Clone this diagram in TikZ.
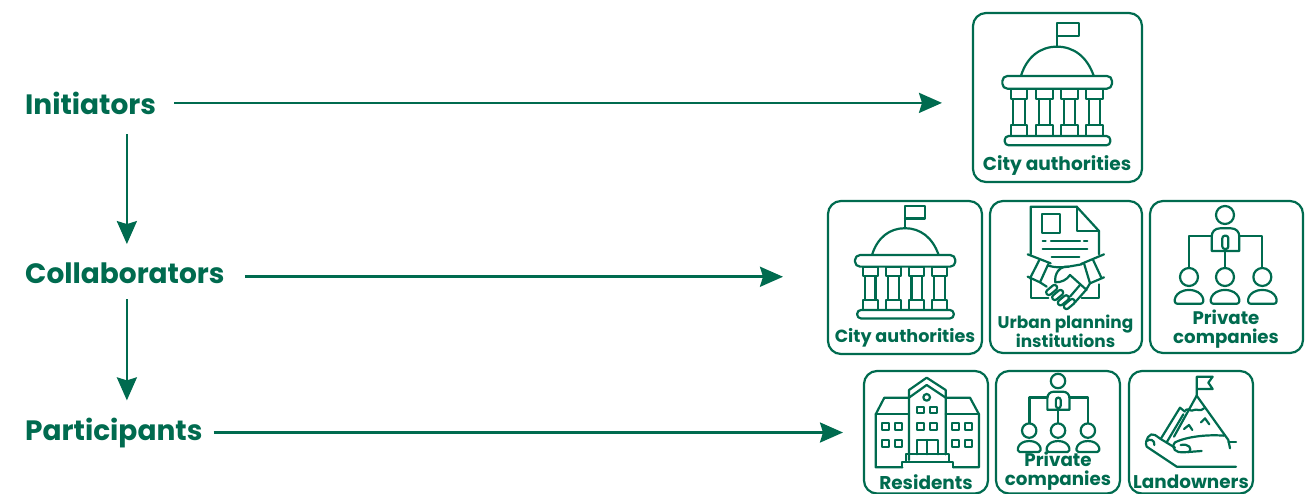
\documentclass[tikz,border=0pt]{standalone}
\usepackage{fontspec}
\setmainfont{Poppins}
\usetikzlibrary{arrows.meta}
\definecolor{ink}{HTML}{006B4F}
\tikzset{
  x=1pt,y=-1pt,
  tier/.style={anchor=base west,inner sep=0pt,text=ink,font=\bfseries\fontsize{28}{28}\selectfont},
  card/.style={draw=ink,line width=2.2pt,rounded corners=13pt,anchor=north west,inner sep=0pt,outer sep=0pt},
  cap/.style={text=ink,inner sep=0pt,align=center,font=\bfseries\fontsize{#1}{#1}\selectfont},
  flow/.style={draw=ink,line width=2.6pt,-{Stealth[length=23pt,width=20pt,inset=3pt]}},
  ic/.style={draw=ink,line width=2.2pt,line join=round,line cap=round},
  icthin/.style={draw=ink,line width=1.9pt,line join=round,line cap=round},
  cityhall/.pic={
    \path[ic,rounded corners=5pt] (-164,228) rectangle (165,266);
    \path[ic,rounded corners=4pt] (-157,408) rectangle (160,436);
    \path[ic] (0,140) -- (0,68) -- (66,68) -- (66,108) -- (0,108);
    \path[ic] (-108,227) .. controls (-90,170) and (-50,140) .. (0,140) .. controls (50,140) and (90,170) .. (110,227);
    \foreach \c in {-114,-38,38,113}{
      \path[ic] (\c-25,266) rectangle (\c+25,296);
      \path[ic] (\c-17,296) rectangle (\c+17,376);
      \path[ic] (\c-25,376) rectangle (\c+25,408);
    }
  },
  handshake/.pic={
    \path[ic] (152,178) -- (152,35) -- (290,35) -- (357,108) -- (357,178);
    \path[ic] (290,35) -- (290,108) -- (357,108);
    \path[ic] (185,58) rectangle (240,115);
    \path[ic] (188,138) -- (197,138) (213,138) -- (300,138) (312,138) -- (322,138);
    \path[ic] (188,162) -- (322,162) (215,187) -- (298,187);
    \path[ic] (152,250) -- (152,310) -- (205,310) (357,268) -- (357,310) -- (305,310);
    \path[ic] (143,178) -- (212,205) (372,178) -- (303,207);
    \path[ic] (178,195) -- (150,250) (143,245) -- (180,262) -- (205,207);
    \path[ic] (338,192) -- (365,250) (372,247) -- (330,265) -- (312,205);
    \path[ic] (205,212) .. controls (225,218) and (240,218) .. (265,215) -- (305,208);
    \path[ic] (265,215) .. controls (240,212) and (222,235) .. (226,262) .. controls (245,262) and (260,255) .. (270,240) -- (320,285);
    \path[ic] (180,262) -- (200,275) (330,265) -- (318,285);
    \foreach \a/\b in {215/285,233/300,250/316,268/327}{
      \path[ic,rotate around={40:(\a,\b)},rounded corners=2.5pt] (\a-19,\b-8) rectangle (\a+19,\b+8);
    }
    \path[ic] (300,270) -- (270,305) (318,285) -- (285,322);
  },
  orgchart/.pic={
    \path[ic] (240,60) circle (27);
    \path[ic] (200,168) -- (200,125) .. controls (200,110) and (210,100) .. (225,100) -- (258,100) .. controls (273,100) and (283,110) .. (283,125) -- (283,168) -- cycle;
    \path[ic,rounded corners=2.5pt] (232,122) rectangle (250,162);
    \path[ic] (200,122) -- (133,122) -- (133,218) (283,122) -- (352,122) -- (352,218) (240,168) -- (240,218);
    \foreach \c in {132,240,352}{
      \path[ic] (\c,246) circle (27);
      \path[ic] (\c-36,326) .. controls (\c-50,326) and (\c-45,285) .. (\c,285) .. controls (\c+45,285) and (\c+50,326) .. (\c+36,326) -- cycle;
    }
  },
  school/.pic={
    \path[ic] (162,285) -- (162,75) -- (215,38) -- (272,75) -- (272,268);
    \path[ic] (162,98) -- (215,60) -- (272,98);
    \path[ic] (215,97) circle (10);
    \path[ic] (162,98) -- (88,98) -- (62,148) -- (62,307) -- (142,307);
    \path[ic] (272,98) -- (345,98) -- (372,148) -- (372,307) -- (295,307);
    \path[ic] (62,148) -- (162,148) (272,148) -- (372,148);
    \path[ic] (142,307) -- (142,290) -- (295,290) -- (295,307);
    \path[ic] (152,290) -- (152,268) -- (282,268) -- (282,290);
    \path[ic] (185,268) -- (185,225) -- (248,225) -- (248,268) (215,225) -- (215,268);
    \foreach \px/\py in {187/125,225/125,82/175,121/175,187/175,225/175,291/175,330/175,82/225,121/225,291/225,330/225}{
      \path[icthin] (\px,\py) rectangle ++(20,20);
    }
  },
  summit/.pic={
    \path[ic] (230,92) -- (230,35) -- (278,35) -- (265,53) -- (278,72) -- (230,72);
    \path[ic] (162,215) -- (230,92) -- (325,225) -- (330,250);
    \path[ic] (197,135) .. controls (205,128) and (212,142) .. (222,135) .. controls (230,130) and (240,142) .. (252,130);
    \path[ic] (192,192) -- (207,180) -- (217,195) (243,172) -- (255,160) -- (268,178);
    \path[ic] (122,222) -- (180,128) -- (195,140) (140,232) -- (190,148);
    \path[ic] (325,232) -- (348,232);
    \path[ic] (165,232) .. controls (200,215) and (260,208) .. (312,212);
    \path[ic] (165,232) .. controls (150,250) and (170,265) .. (190,262) -- (245,258);
    \path[ic] (182,240) .. controls (205,235) and (220,250) .. (205,262);
    \path[ic] (165,248) -- (122,222) -- (105,210) .. controls (90,200) and (72,225) .. (80,245) -- (170,305) -- (348,305);
    \path[ic] (80,228) .. controls (90,220) and (105,225) .. (103,240);
  }
}
\begin{document}
\begin{tikzpicture}
\useasboundingbox (0,0) rectangle (1313,493);
\begin{scope}
\clip (0,0) rectangle (1313,493);
% cards
\node[card,minimum width=169pt,minimum height=169pt] (cityA) at (973,13) {};
\node[card,minimum width=154pt,minimum height=153pt] (cityB) at (828,201) {};
\node[card,minimum width=152pt,minimum height=152pt] (urban) at (990,201) {};
\node[card,minimum width=153pt,minimum height=152pt] (privA) at (1150,201) {};
\node[card,minimum width=124pt,minimum height=122.5pt] (resid) at (864,371) {};
\node[card,minimum width=124pt,minimum height=122.5pt] (privB) at (996,371) {};
\node[card,minimum width=124pt,minimum height=122.5pt] (land) at (1129,371) {};
% icons
\pic[shift={(1057,0)},scale=.3333,transform shape] {cityhall};
\pic[shift={(905,185.5)},scale=.305,transform shape] {cityhall};
\pic[shift={(980,195)},scale=.3333,transform shape] {handshake};
\pic[shift={(1145,195)},scale=.3333,transform shape] {orgchart};
\pic[shift={(855,365)},scale=.3333,transform shape] {school};
\pic[shift={(994,365)},scale=.2667,transform shape] {orgchart};
\pic[shift={(1120,365)},scale=.3333,transform shape] {summit};
% captions
\node[cap=18.6] (capA) at (1057,165.5) {City authorities};
\node[cap=17.6] (capB) at (905,337.5) {City authorities};
\node[cap=16.9] (capC) at (1065.5,331.5) {Urban planning\\[0pt]institutions};
\node[cap=18.2] (capD) at (1226,329) {Private\\[1.5pt]companies};
\node[cap=18.5] (capE) at (926,482) {Residents};
\node[cap=18.3] (capF) at (1058,471) {Private\\[1pt]companies};
\node[cap=18.4] (capG) at (1191,481.5) {Landowners};
% tier labels
\node[tier] (ini) at (25,114) {Initiators};
\node[tier] (col) at (25,283) {Collaborators};
\node[tier] (par) at (25,440) {Participants};
% connectors
\path[flow,shorten <=18pt,shorten >=31pt] (ini.east) -- (ini.east -| cityA.west);
\path[flow,shorten <=20pt,shorten >=45pt] ([yshift=-4pt]col.east) -- ([yshift=-4pt]col.east -| cityB.west);
\path[flow,shorten <=11pt,shorten >=21pt] (par.east) -- (par.east -| resid.west);
\path[flow,shorten <=20pt,shorten >=18pt] ([xshift=2pt]ini.south -| col.north) -- ([xshift=2pt]col.north);
\path[flow,shorten <=16pt,shorten >=17pt] ([xshift=2pt]col.south) -- ([xshift=2pt]col.south |- par.north);
\end{scope}
\end{tikzpicture}
\end{document}
